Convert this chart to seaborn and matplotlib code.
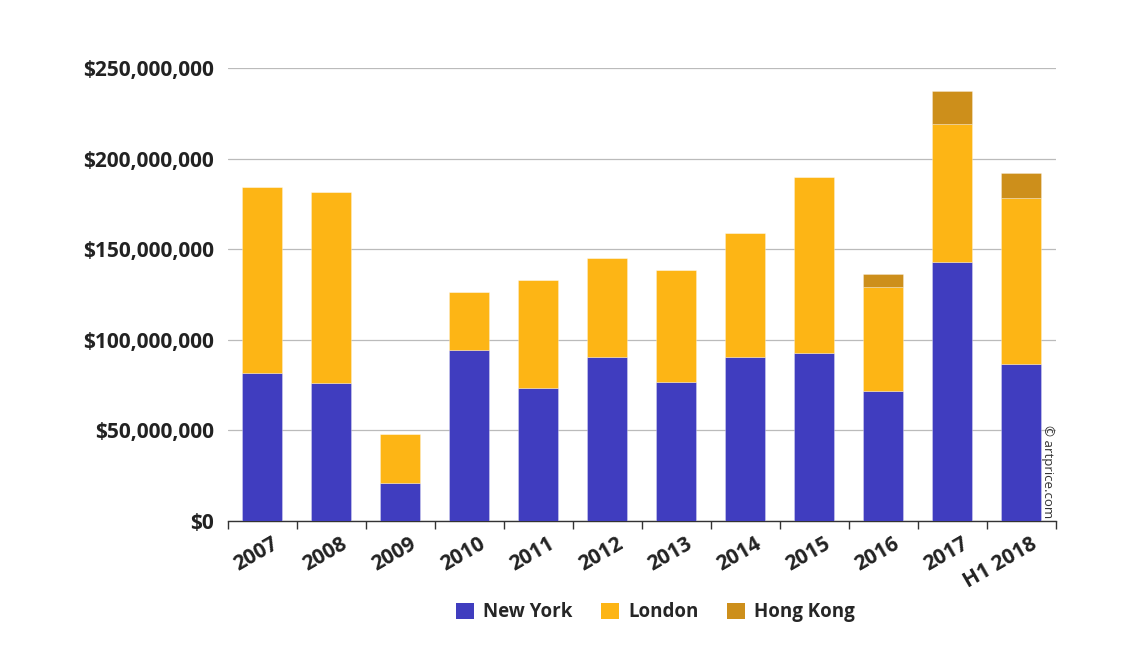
import matplotlib
matplotlib.use("Agg")
import matplotlib.pyplot as plt
import matplotlib.transforms as mtrans
import seaborn as sns
import numpy as np
import pandas as pd
from matplotlib.patches import Patch
from matplotlib.ticker import FuncFormatter, MultipleLocator

years = ["2007", "2008", "2009", "2010", "2011", "2012", "2013", "2014", "2015", "2016", "2017", "H1 2018"]
new_york = [81.7, 76.0, 21.0, 94.4, 73.4, 90.5, 76.7, 90.5, 92.5, 71.6, 142.8, 86.6]
london = [102.6, 105.7, 27.0, 31.8, 59.6, 54.6, 61.6, 68.4, 97.2, 57.4, 76.1, 91.7]
hong_kong = [0, 0, 0, 0, 0, 0, 0, 0, 0, 7.5, 18.4, 13.7]
series_names = ["New York", "London", "Hong Kong"]
colors = ["#403dbf", "#fdb515", "#cd8f1b"]

sns.set_theme(style="white")
plt.rcParams["font.family"] = ["Open Sans", "DejaVu Sans"]

fig = plt.figure(figsize=(11.4, 6.54), dpi=100)
ax = fig.add_axes([0.2, 0.2034, 0.726, 0.6926])

ny = np.array(new_york) * 1e6
ld = np.array(london) * 1e6
hk = np.array(hong_kong) * 1e6
df = pd.DataFrame({"year": years, "ny": ny, "ld": ld, "hk": hk})

w = 0.58
sns.barplot(data=df, x="year", y="ny", color=colors[0], width=w, saturation=1,
            ax=ax, edgecolor="#ffffff55", linewidth=0.6, zorder=3)
sns.barplot(data=df, x="year", y="ld", color=colors[1], width=w, saturation=1,
            bottom=ny, ax=ax, edgecolor="#ffffff55", linewidth=0.6, zorder=3)
sns.barplot(data=df, x="year", y="hk", color=colors[2], width=w, saturation=1,
            bottom=ny + ld, ax=ax, edgecolor="#ffffff55", linewidth=0.6, zorder=3)

ax.set_xlim(-0.5, len(years) - 0.5)
ax.set_ylim(0, 250e6)
ax.yaxis.set_major_locator(MultipleLocator(50e6))
ax.yaxis.set_major_formatter(FuncFormatter(lambda v, p: f"${v:,.0f}"))
ax.grid(axis="y", color="#bbbbbb", linewidth=0.9, zorder=0)
ax.set_axisbelow(True)
for s in ["top", "right", "left"]:
    ax.spines[s].set_visible(False)
ax.spines["bottom"].set_color("#333333")
ax.spines["bottom"].set_linewidth(1.0)

ax.set_xlabel("")
ax.set_ylabel("")
ax.set_xticks(np.arange(len(years)))
ax.set_xticklabels(years, rotation=30, ha="right", rotation_mode="anchor",
                   fontsize=15, fontweight="bold", color="#222222")
ax.set_xticks(np.arange(len(years) + 1) - 0.5, minor=True)
ax.tick_params(axis="x", which="major", length=0, pad=9)
ax.tick_params(axis="x", which="minor", length=6, color="#333333", width=1, bottom=True)
ax.tick_params(axis="y", length=0, pad=10, labelsize=15)
for t in ax.get_yticklabels():
    t.set_fontweight("bold")
    t.set_color("#222222")

ax.text(0.998, 0.11, "© artprice.com", transform=ax.transAxes, rotation=-90,
        fontsize=9.5, color="#333333", ha="right", va="center")

handles = [Patch(facecolor=c, edgecolor="none", label=n) for c, n in zip(colors, series_names)]
fig.legend(handles=handles, loc="center", bbox_to_anchor=(0.575, 0.064), ncol=3,
           frameon=False, prop={"family": "Open Sans", "weight": "bold", "size": 13.5},
           handlelength=0.95, handleheight=0.95, handletextpad=0.5, columnspacing=1.5)

fig.canvas.draw()
offset = mtrans.ScaledTranslation(9 / 100, 0, fig.dpi_scale_trans)
for tick in ax.xaxis.get_major_ticks():
    tick.label1.set_transform(tick.label1.get_transform() + offset)

fig.savefig("out.png", dpi=100, facecolor="white")
